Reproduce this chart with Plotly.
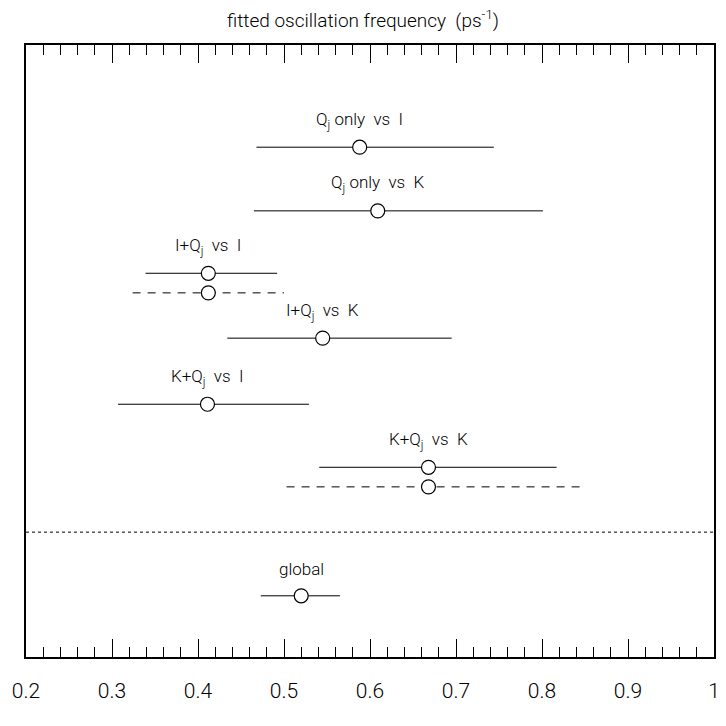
import plotly.graph_objects as go

# fitted values (ps^-1): centre, low, high for each fit
labels = ["Q<sub>j</sub> only  vs  I", "Q<sub>j</sub> only  vs  K", "I+Q<sub>j</sub>  vs  I",
          "I+Q<sub>j</sub>  vs  K", "K+Q<sub>j</sub>  vs  I", "K+Q<sub>j</sub>  vs  K", "global"]
centres = [0.588, 0.609, 0.412, 0.545, 0.411, 0.668, 0.520]
lows = [0.468, 0.465, 0.339, 0.434, 0.307, 0.541, 0.473]
highs = [0.744, 0.801, 0.492, 0.695, 0.529, 0.817, 0.565]
rows = [1.67, 2.71, 3.73, 4.79, 5.87, 6.90, 9.0]

# dashed (alternative) ranges for two of the fits
alt_index = [2, 5]
alt_lows = [0.324, 0.503]
alt_highs = [0.500, 0.850]
alt_rows = [4.05, 7.22]

separator_row = 7.96

FONT = "Roboto, Open Sans, sans-serif"
font = lambda size: dict(family=FONT, size=size, color="black", weight=300)

fig = go.Figure()

for lo, hi, r in zip(lows, highs, rows):
    fig.add_trace(go.Scatter(x=[lo, hi], y=[r, r], mode="lines",
                             line=dict(color="black", width=1), hoverinfo="skip"))
for i, lo, hi, r in zip(alt_index, alt_lows, alt_highs, alt_rows):
    fig.add_trace(go.Scatter(x=[lo, hi], y=[r, r], mode="lines",
                             line=dict(color="black", width=1, dash="8px,7px"), hoverinfo="skip"))

fig.add_trace(go.Scatter(x=centres + [centres[i] for i in alt_index], y=rows + alt_rows,
                         mode="markers",
                         marker=dict(symbol="circle", size=14, color="white",
                                     line=dict(color="black", width=1.2))))

for lab, c, r in zip(labels, centres, rows):
    fig.add_annotation(x=c, y=r, text=lab, showarrow=False, yshift=27, font=font(17))

fig.add_hline(y=separator_row, line=dict(color="black", width=1, dash="dot"))

# page body has an 8px margin and the visible page ends at 718px: keep the figure inside it
fig.update_layout(
    width=710, height=700,
    margin=dict(l=18, r=4, t=37, b=51, autoexpand=False),
    paper_bgcolor="white", plot_bgcolor="white",
    showlegend=False,
    title=dict(text="fitted oscillation frequency  (ps<sup>-1</sup>)", x=0.5, xanchor="center",
               y=0.982, yanchor="middle", font=font(19)),
    xaxis=dict(range=[0.2, 1.0], tickvals=[0.2, 0.3, 0.4, 0.5, 0.6, 0.7, 0.8, 0.9, 1.0],
               ticktext=["0.2", "0.3", "0.4", "0.5", "0.6", "0.7", "0.8", "0.9", "1"],
               ticks="inside", ticklen=18, tickwidth=1, tickcolor="black",
               minor=dict(dtick=0.02, tick0=0.2, ticks="inside", ticklen=10, tickcolor="black", tickwidth=1),
               showline=True, linecolor="black", linewidth=1.5, mirror="ticks", automargin=False,
               showgrid=False, zeroline=False, ticklabelstandoff=14, ticklabeloverflow="allow",
               tickfont=font(21)),
    yaxis=dict(range=[10, 0], showticklabels=False, ticks="", showgrid=False, zeroline=False,
               showline=True, linecolor="black", linewidth=1.5, mirror=True, automargin=False),
)

fig.write_html("out.html")
